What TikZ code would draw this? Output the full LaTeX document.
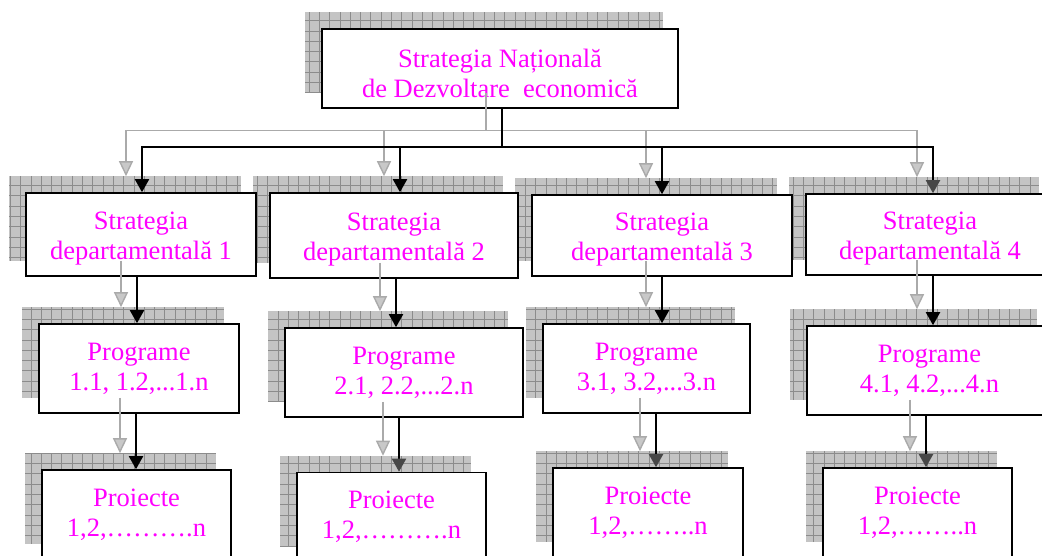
\documentclass[tikz,border=0pt]{standalone}
\usepackage{fontspec}
\setmainfont{Liberation Serif}
\usetikzlibrary{arrows.meta,backgrounds}
\definecolor{shfill}{RGB}{196,196,196}
\definecolor{shgrid}{RGB}{140,140,140}
\definecolor{gline}{RGB}{170,170,170}
\definecolor{gtip}{RGB}{200,200,200}
\definecolor{txt}{RGB}{255,0,255}
\newcommand{\lift}[1]{\rule{0pt}{#1}}
\begin{document}
\begin{tikzpicture}[x=1pt,y=-1pt,
  box/.style={draw,line width=1.6pt,fill=white,text=txt,align=center,inner sep=0pt,
    font=\fontsize{26.5}{30}\selectfont},
  blk/.style={line width=2pt,-{Triangle[width=14pt,length=13pt]}},
  dk/.style={-{Triangle[width=14pt,length=13pt,color=black!72]}},
  gry/.style={draw=gline,line width=1.4pt,-{Triangle[width=14pt,length=15pt,fill=gtip]}},
  sh/.style={shift={(-16,-16)}},
  shadowfill/.style={fill=shfill},
  gridline/.style={draw=shgrid,line width=0.7pt}]
\useasboundingbox (0,0) rectangle (1042,556);
\clip (0,0) rectangle (1042,556);

% boxes
\node[box,minimum width=356pt,minimum height=79pt] (T) at (500,68.5) {\lift{28pt}Strategia Națională\\de Dezvoltare\ \ economică};

\node[box,minimum width=230pt,minimum height=83pt] (S1) at (141,234.5) {\lift{26pt}Strategia\\departamentală 1};
\node[box,minimum width=248pt,minimum height=85pt] (S2) at (394,235.5) {\lift{26pt}Strategia\\departamentală 2};
\node[box,minimum width=260pt,minimum height=81pt] (S3) at (662,235.5) {\lift{26pt}Strategia\\departamentală 3};
\node[box,minimum width=248pt,minimum height=81pt] (S4) at (930,234.5) {\lift{26pt}Strategia\\departamentală 4};

\node[box,minimum width=200pt,minimum height=89pt] (P1) at (139,368.5) {Programe\\1.1, 1.2,...1.n};
\node[box,minimum width=238pt,minimum height=89pt] (P2) at (404,372.5) {Programe\\2.1, 2.2,...2.n};
\node[box,minimum width=207pt,minimum height=89pt] (P3) at (646.5,368.5) {Programe\\3.1, 3.2,...3.n};
\node[box,minimum width=245pt,minimum height=89pt] (P4) at (929.5,370.5) {Programe\\4.1, 4.2,...4.n};

\node[box,minimum width=189pt,minimum height=89pt] (J1) at (136.5,514.5) {Proiecte\\1,2,……….n};
\node[box,minimum width=189pt,minimum height=89pt] (J2) at (391.5,517) {Proiecte\\1,2,……….n};
\node[box,minimum width=190pt,minimum height=89pt] (J3) at (648,512.5) {Proiecte\\1,2,……..n};
\node[box,minimum width=189pt,minimum height=89pt] (J4) at (917.5,512.5) {Proiecte\\1,2,……..n};

% shadows
\begin{scope}[on background layer]
\foreach \n in {T,S1,S2,S3,S4,P1,P2,P3,P4,J1,J2,J3,J4}{
  \fill[shadowfill] ([sh]\n.north west) rectangle ([sh]\n.south east);
  \draw[gridline,step=10.3pt] ([sh]\n.north west) grid ([sh]\n.south east);
}
\end{scope}

% connector points
\path ([xshift=2pt]T.south) coordinate (t0) ++(0,38) coordinate (t1);
\path ([xshift=1pt]S1.north) coordinate (d1)
      ([xshift=6pt]S2.north) coordinate (d2)
      (S3.north) coordinate (d3)
      ([xshift=3pt]S4.north) coordinate (d4);
\path ([xshift=-4pt]S1.south) coordinate (a1) (a1 |- P1.north) coordinate (b1);
\path ([xshift=2pt]S2.south) coordinate (a2) (a2 |- P2.north) coordinate (b2);
\path (S3.south) coordinate (a3) (a3 |- P3.north) coordinate (b3);
\path ([xshift=3pt]S4.south) coordinate (a4) (a4 |- P4.north) coordinate (b4);
\path ([xshift=-3pt]P1.south) coordinate (c1) (c1 |- J1.north) coordinate (e1);
\path ([xshift=-5pt]P2.south) coordinate (c2) (c2 |- J2.north) coordinate (e2);
\path ([xshift=9.5pt]P3.south) coordinate (c3) (c3 |- J3.north) coordinate (e3);
\path ([xshift=-3.5pt]P4.south) coordinate (c4) (c4 |- J4.north) coordinate (e4);

% grey shadow connectors
\foreach \k in {1,2,3,4}{
  \draw[gry] ([sh]t0) -- ([sh]t1) -| ([sh]d\k);
  \draw[gry] ([sh]a\k) -- ([sh]b\k);
  \draw[gry] ([sh]c\k) -- ([sh]e\k);
}

% black connectors
\draw[blk] (t0) -- (t1) -| (d1);
\draw[blk] (t0) -- (t1) -| (d2);
\draw[blk] (t0) -- (t1) -| (d3);
\draw[blk,dk] (t0) -- (t1) -| (d4);
\draw[blk] (a1) -- (b1);
\draw[blk] (a2) -- (b2);
\draw[blk] (a3) -- (b3);
\draw[blk] (a4) -- (b4);
\draw[blk] (c1) -- (e1);
\draw[blk,dk] (c2) -- (e2);
\draw[blk,dk] (c3) -- (e3);
\draw[blk,dk] (c4) -- (e4);
\end{tikzpicture}
\end{document}
